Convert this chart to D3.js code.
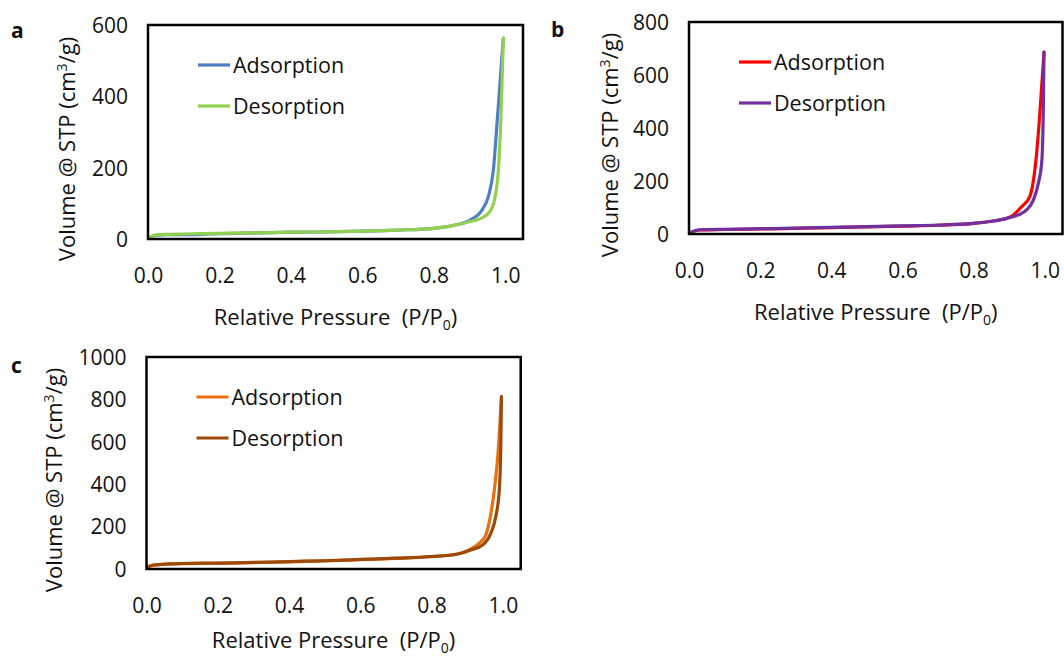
<!DOCTYPE html>
<html>
<head>
<meta charset="utf-8">
<script src="https://cdn.jsdelivr.net/npm/d3@7"></script>
<style>
  html, body { margin: 0; padding: 0; background: #fff; }
  svg { display: block; }
  text { font-family: "Open Sans", "Liberation Sans", sans-serif; fill: #111; white-space: pre; }
</style>
</head>
<body>
<svg id="chart" width="1064" height="659"></svg>
<script>
// Nitrogen sorption isotherms for three samples (a, b, c)

const xTicks = [0.0, 0.2, 0.4, 0.6, 0.8, 1.0];

// Sample a
const aTicks = [0, 200, 400, 600];
const aAdsP = [0.003, 0.02, 0.05, 0.1, 0.15, 0.2, 0.3, 0.4, 0.5, 0.6, 0.7, 0.8, 0.85, 0.902, 0.935, 0.953, 0.967, 0.978, 0.995];
const aAdsV = [3, 10, 12, 12, 13, 15, 17, 19, 20, 22, 25, 30, 37, 53, 81, 119, 193, 334, 563];
const aDesP = [0.003, 0.02, 0.05, 0.1, 0.15, 0.2, 0.3, 0.4, 0.5, 0.6, 0.7, 0.8, 0.85, 0.893, 0.935, 0.958, 0.972, 0.981, 0.988, 0.995];
const aDesV = [3, 11, 13, 14, 15, 16, 17, 19, 20, 22, 25, 30, 37, 47, 59, 78, 119, 193, 334, 563];

// Sample b
const bTicks = [0, 200, 400, 600, 800];
const bAdsP = [0.003, 0.03, 0.1, 0.2, 0.3, 0.4, 0.5, 0.6, 0.7, 0.8, 0.85, 0.893, 0.912, 0.935, 0.958, 0.977, 0.987, 0.998];
const bAdsV = [5, 15, 17, 19, 21, 24, 27, 30, 33, 40, 48, 59, 72, 103, 141, 300, 468, 686];
const bDesP = [0.003, 0.03, 0.1, 0.2, 0.3, 0.4, 0.5, 0.6, 0.7, 0.8, 0.85, 0.893, 0.926, 0.949, 0.968, 0.982, 0.992, 0.996, 0.998];
const bDesV = [5, 16, 18, 20, 22, 25, 28, 31, 34, 40, 48, 59, 72, 91, 128, 191, 279, 468, 686];

// Sample c
const cTicks = [0, 200, 400, 600, 800, 1000];
const cAdsP = [0.003, 0.02, 0.06, 0.1, 0.2, 0.3, 0.4, 0.5, 0.6, 0.7, 0.8, 0.873, 0.905, 0.933, 0.952, 0.961, 0.976, 0.987, 0.996];
const cAdsV = [10, 18, 23, 25, 27, 30, 34, 38, 44, 50, 58, 71, 90, 121, 160, 215, 373, 561, 813];
const cDesP = [0.003, 0.02, 0.06, 0.1, 0.2, 0.3, 0.4, 0.5, 0.6, 0.7, 0.8, 0.873, 0.91, 0.943, 0.966, 0.98, 0.99, 0.994, 0.996];
const cDesV = [10, 19, 24, 26, 28, 31, 35, 39, 45, 51, 59, 71, 90, 113, 168, 247, 373, 561, 813];

const seriesNames = ["Adsorption", "Desorption"];

const panels = [
  { label: "a", box: { l: 148, t: 25, r: 523, b: 239 }, yMax: 600, yTicks: aTicks,
    series: [{ p: aAdsP, v: aAdsV, color: "#4F7FC2" }, { p: aDesP, v: aDesV, color: "#92D050" }],
    labelPos: [11, 38], yTitleX: 67, xTitleGap: 78 },
  { label: "b", box: { l: 689, t: 22, r: 1062.5, b: 234 }, yMax: 800, yTicks: bTicks,
    series: [{ p: bAdsP, v: bAdsV, color: "#FF0000" }, { p: bDesP, v: bDesV, color: "#7030A0" }],
    labelPos: [551, 37], yTitleX: 610, xTitleGap: 78 },
  { label: "c", box: { l: 146.5, t: 357, r: 520.7, b: 569 }, yMax: 1000, yTicks: cTicks,
    series: [{ p: cAdsP, v: cAdsV, color: "#E8700F" }, { p: cDesP, v: cDesV, color: "#9C4A0A" }],
    labelPos: [11, 373], yTitleX: 54, xTitleGap: 71 }
];

const svg = d3.select("#chart");

panels.forEach(pn => {
  const { l, t, r, b } = pn.box;
  const x = d3.scaleLinear().domain([0, 1.05]).range([l, r]);
  const y = d3.scaleLinear().domain([0, pn.yMax]).range([b, t]);
  const g = svg.append("g");

  // panel letter
  g.append("text").attr("x", pn.labelPos[0]).attr("y", pn.labelPos[1])
    .style("font-weight", "bold").style("font-size", "21px").text(pn.label);

  // x axis labels
  const xAxis = d3.axisBottom(x).tickValues(xTicks).tickFormat(d3.format(".1f")).tickSize(0).tickPadding(0);
  const xg = g.append("g").attr("transform", `translate(0,${b})`).call(xAxis);
  xg.select(".domain").remove();
  xg.selectAll("text").attr("y", 37).attr("dy", "0.35em")
    .style("font-size", "21px").style("font-family", "'Open Sans', sans-serif").attr("fill", "#111");

  // y axis labels
  const yAxis = d3.axisLeft(y).tickValues(pn.yTicks).tickFormat(d3.format("d")).tickSize(0).tickPadding(0);
  const yg = g.append("g").attr("transform", `translate(${l},0)`).call(yAxis);
  yg.select(".domain").remove();
  yg.selectAll("text").attr("x", -20).attr("dy", "0.35em")
    .style("font-size", "21px").style("font-family", "'Open Sans', sans-serif").attr("fill", "#111");

  // series
  const line = d3.line().x(d => x(d[0])).y(d => y(d[1])).curve(d3.curveMonotoneX);
  pn.series.forEach(s => {
    const pts = s.p.map((p, i) => [p, s.v[i]]);
    g.append("path").datum(pts).attr("d", line)
      .attr("fill", "none").attr("stroke", s.color).attr("stroke-width", 3.2)
      .attr("stroke-linejoin", "round").attr("stroke-linecap", "round");
  });

  // frame
  g.append("rect").attr("x", l).attr("y", t).attr("width", r - l).attr("height", b - t)
    .attr("fill", "none").attr("stroke", "#000").attr("stroke-width", 2.5);

  // legend
  pn.series.forEach((s, i) => {
    const ly = t + 40 + i * 41;
    g.append("line").attr("x1", l + 50).attr("x2", l + 82).attr("y1", ly).attr("y2", ly)
      .attr("stroke", s.color).attr("stroke-width", 3.2);
    g.append("text").attr("x", l + 85).attr("y", ly).attr("dy", "0.35em")
      .style("font-size", "21.5px").text(seriesNames[i]);
  });

  // x title
  const xt = g.append("text").attr("x", (l + r) / 2).attr("y", b + pn.xTitleGap).attr("dy", "0.35em")
    .attr("text-anchor", "middle").style("font-size", "22px");
  xt.append("tspan").text("Relative Pressure  (P/P");
  xt.append("tspan").attr("dy", 5).style("font-size", "14px").text("0");
  xt.append("tspan").attr("dy", -5).text(")");

  // y title
  const yt = g.append("text")
    .attr("transform", `translate(${pn.yTitleX},${(t + b) / 2 + 17}) rotate(-90)`)
    .attr("dy", "0.35em").attr("text-anchor", "middle").style("font-size", "22px");
  yt.append("tspan").text("Volume @ STP (cm");
  yt.append("tspan").attr("dy", -8).style("font-size", "14px").text("3");
  yt.append("tspan").attr("dy", 8).text("/g)");
});
</script>
</body>
</html>
